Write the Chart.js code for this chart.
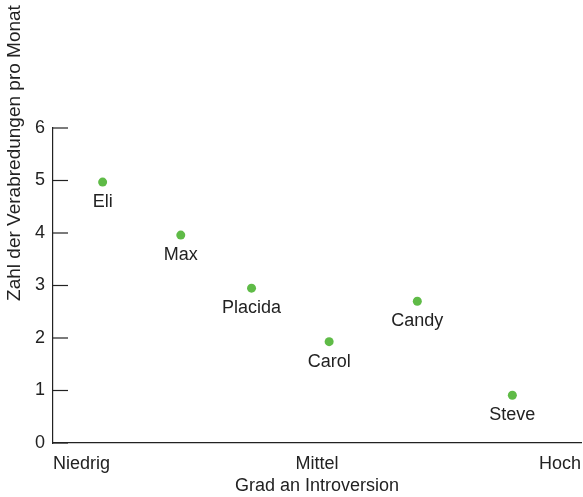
<!DOCTYPE html>
<html>
<head>
<title>Introversion und Verabredungen</title>
<script src="https://cdn.jsdelivr.net/npm/chart.js"></script>
<style>
body { margin: 0; background: #fff; }
#chartContainer { width: 583px; height: 497px; }
</style>
</head>
<body>
  <div id="chartContainer">
    <canvas id="myChart"></canvas>
  </div>

  <script>
  const names = ['Eli', 'Max', 'Placida', 'Carol', 'Candy', 'Steve'];
  const introversion = [0.94, 2.42, 3.76, 5.23, 6.9, 8.7];
  const dates = [4.97, 3.96, 2.95, 1.93, 2.7, 0.91];
  const xTickValues = [0, 5, 10];
  const xTickLabels = ['Niedrig', 'Mittel', 'Hoch'];

  const font = { family: 'Liberation Sans, Arial, sans-serif', size: 18 };
  const ink = '#222';

  // names under the points, inward y ticks and the y title
  const extras = {
    id: 'extras',
    afterDatasetsDraw(chart) {
      const ctx = chart.ctx;
      const meta = chart.getDatasetMeta(0);
      ctx.save();
      ctx.font = '18px ' + font.family;
      ctx.fillStyle = ink;
      ctx.textAlign = 'center';
      ctx.textBaseline = 'middle';
      meta.data.forEach((pt, i) => {
        ctx.fillText(names[i], pt.x, pt.y + 20);
      });

      const y = chart.scales.y;
      ctx.strokeStyle = ink;
      ctx.lineWidth = 1.2;
      y.ticks.forEach(t => {
        const py = y.getPixelForValue(t.value);
        ctx.beginPath();
        ctx.moveTo(y.right, py);
        ctx.lineTo(y.right + 15, py);
        ctx.stroke();
      });

      ctx.font = '19px ' + font.family;
      ctx.translate(15, 153);
      ctx.rotate(-Math.PI / 2);
      ctx.fillText('Zahl der Verabredungen pro Monat', 0, 0);
      ctx.restore();
    }
  };

  const ctx = document.getElementById('myChart').getContext('2d');
  new Chart(ctx, {
    type: 'scatter',
    data: {
      datasets: [{
        data: introversion.map((x, i) => ({ x: x, y: dates[i] })),
        backgroundColor: '#5fbb47',
        borderWidth: 0,
        pointRadius: 4.5
      }]
    },
    options: {
      responsive: true,
      maintainAspectRatio: false,
      animation: false,
      layout: { autoPadding: false, padding: { top: 128, right: 0, left: 0, bottom: 0 } },
      plugins: { legend: { display: false }, tooltip: { enabled: false } },
      scales: {
        x: {
          type: 'linear',
          min: 0,
          max: 10,
          afterBuildTicks: s => { s.ticks = xTickValues.map(v => ({ value: v })); },
          afterFit: s => { s.height = 54; },
          grid: { display: false },
          border: { display: true, color: ink, width: 1.2 },
          ticks: {
            align: 'inner',
            padding: 2,
            maxRotation: 0,
            color: ink,
            font: font,
            callback: v => xTickLabels[xTickValues.indexOf(v)]
          },
          title: {
            display: true,
            text: 'Grad an Introversion',
            color: ink,
            font: font,
            padding: { top: 2, bottom: 0 }
          }
        },
        y: {
          min: 0,
          max: 6,
          afterFit: s => { s.width = 53; },
          grid: { display: false },
          border: { display: true, color: ink, width: 1.2 },
          ticks: { stepSize: 1, padding: 0, color: ink, font: font }
        }
      }
    },
    plugins: [extras]
  });
  </script>
</body>
</html>
